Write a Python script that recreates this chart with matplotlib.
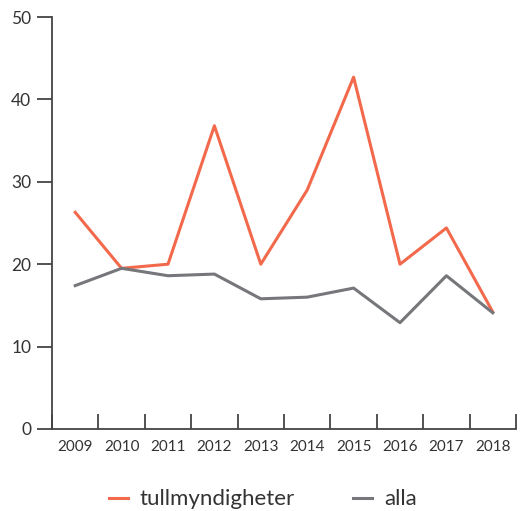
import matplotlib.pyplot as plt

years = ["2009", "2010", "2011", "2012", "2013", "2014", "2015", "2016", "2017", "2018"]
tull = [26.3, 19.5, 20.0, 36.8, 20.0, 29.0, 42.7, 20.0, 24.4, 14.2]
alla = [17.4, 19.5, 18.6, 18.8, 15.8, 16.0, 17.1, 12.9, 18.6, 14.1]

plt.rcParams["font.family"] = ["Lato", "DejaVu Sans"]

fig = plt.figure(figsize=(5.2, 5.11), dpi=100)
ax = fig.add_axes([0.1, 0.1605, 0.8923, 0.8062])

x = list(range(len(years)))
ax.plot(x, tull, color="#f2694b", lw=2.2, label="tullmyndigheter")
ax.plot(x, alla, color="#76777b", lw=2.2, label="alla")

ax.set_xlim(-0.5, len(years) - 0.5)
ax.set_ylim(0, 50)
ax.set_yticks(range(0, 51, 10))
ax.set_xticks(x)
ax.set_xticklabels(years)
ax.set_xticks([i + 0.5 for i in range(-1, len(years))], minor=True)
ax.tick_params(axis="x", which="major", length=0, pad=8, labelsize=11, labelcolor="#333333")
ax.tick_params(axis="x", which="minor", direction="in", length=11, width=1.3, color="#444444")
ax.tick_params(axis="y", length=11, width=1.3, color="#444444", labelsize=12.5,
               labelcolor="#333333", pad=4)

for s in ["top", "right"]:
    ax.spines[s].set_visible(False)
for s in ["left", "bottom"]:
    ax.spines[s].set_color("#444444")
    ax.spines[s].set_linewidth(1.3)

ax.legend(loc="upper center", bbox_to_anchor=(0.454, -0.098), ncol=2, frameon=False,
          fontsize=16, handlelength=0.85, columnspacing=2.6, handletextpad=0.55,
          labelcolor="#333333")

fig.savefig("out.png", dpi=100)
